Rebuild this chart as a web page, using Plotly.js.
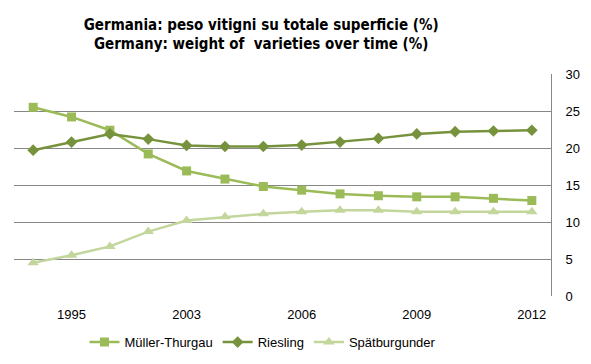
<!DOCTYPE html>
<html><head><meta charset="utf-8">
<script src="https://cdn.plot.ly/plotly-3.0.1.min.js"></script>
<style>html,body{margin:0;padding:0;background:#fff}#chart{width:591px;height:364px}</style>
</head><body><div id="chart"></div>
<script>
const years = ["1990","1995","1999","2001","2003","2004","2005","2006","2007","2008","2009","2010","2011","2012"];
const tickYears = ["1995","2003","2006","2009","2012"];
const mullerThurgau = [25.5,24.2,22.4,19.2,16.9,15.8,14.8,14.3,13.8,13.55,13.4,13.4,13.2,12.9];
const riesling = [19.7,20.8,21.9,21.2,20.35,20.2,20.2,20.4,20.8,21.3,21.9,22.2,22.3,22.4];
const spaetburgunder = [4.5,5.5,6.7,8.7,10.2,10.7,11.1,11.4,11.6,11.6,11.4,11.4,11.4,11.4];

const traces = [
  {x: years, y: mullerThurgau, name: "Müller-Thurgau", type: "scatter", mode: "lines+markers",
   line: {color: "#9BBB59", width: 2.5}, marker: {symbol: "square", size: 9, color: "#9BBB59"}},
  {x: years, y: riesling, name: "Riesling", type: "scatter", mode: "lines+markers",
   line: {color: "#76923C", width: 2.5}, marker: {symbol: "diamond", size: 9, color: "#76923C"}},
  {x: years, y: spaetburgunder, name: "Spätburgunder", type: "scatter", mode: "lines+markers",
   line: {color: "#C3D69B", width: 2.5}, marker: {symbol: "triangle-up", size: 10, color: "#C3D69B"}}
];

const layout = {
  width: 591, height: 364,
  margin: {l: 14, r: 40, t: 74, b: 68, autoexpand: false},
  paper_bgcolor: "#fff", plot_bgcolor: "#fff",
  font: {family: "Liberation Sans, Arial, sans-serif", size: 13, color: "#000"},
  title: {text: "<b>Germania: peso vitigni su totale superficie (%)<br>Germany: weight of  varieties over time (%)</b>",
          font: {family: "Liberation Sans Narrow, DejaVu Sans Condensed, Arial Narrow, sans-serif", size: 15, color: "#000"},
          x: 0.442, xanchor: "center", xref: "container", yref: "container", y: 0.918, yanchor: "middle"},
  xaxis: {type: "category", range: [-0.5, 13.5], tickmode: "array", tickvals: tickYears, ticktext: tickYears,
          showgrid: false, zeroline: false, showline: false, ticks: "", fixedrange: true,
          ticklabelstandoff: 9, tickfont: {size: 13}},
  yaxis: {side: "right", range: [0, 30], dtick: 5, showgrid: true, gridcolor: "#878787", gridwidth: 1,
          zeroline: false, showline: true, linecolor: "#878787", linewidth: 1, ticks: "",
          ticklabelstandoff: 11, tickfont: {size: 13}, fixedrange: true},
  legend: {orientation: "h", x: 0.445, xanchor: "center", xref: "container", yref: "container", y: 0.06, yanchor: "middle",
           font: {size: 13}, tracegroupgap: 0},
  showlegend: true
};
Plotly.newPlot("chart", traces, layout, {displayModeBar: false, staticPlot: true});
</script></body></html>
